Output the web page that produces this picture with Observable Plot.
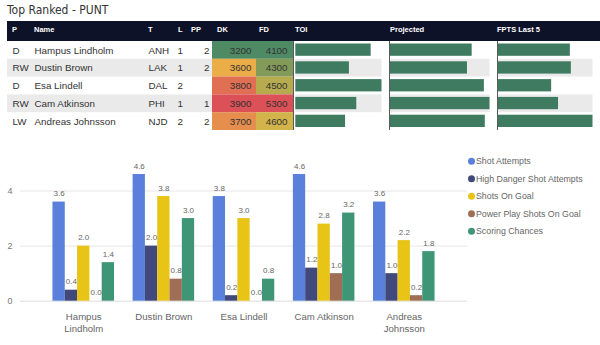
<!DOCTYPE html>
<html><head><meta charset="utf-8">
<script src="https://cdn.jsdelivr.net/npm/d3@7"></script>
<script src="https://cdn.jsdelivr.net/npm/@observablehq/plot@0.6"></script>
<style>
body{margin:0;background:#fff;}
#root{position:relative;width:600px;height:345px;overflow:hidden;font-family:"Liberation Sans",Arial,sans-serif;background:#fff;}
#title{position:absolute;left:7px;top:3px;font-family:"Liberation Sans Narrow","DejaVu Sans Condensed",sans-serif;font-size:12px;color:#333;white-space:nowrap;}
#header{position:absolute;left:7px;top:21px;width:593px;height:20px;background:#0e1229;}
.hl{position:absolute;top:0;line-height:17px;color:#fff;font-size:7.5px;font-weight:bold;white-space:nowrap;}
.col{position:absolute;top:41px;height:89px;}
.col svg{display:block;}
.sep{border-left:1px solid #5a5a5a;}
.chartlayer{position:absolute;left:0;top:135px;}
#legend{position:absolute;left:465px;top:152px;}
</style></head>
<body><div id="root"><div id="title">Top Ranked - PUNT</div><div id="header"></div></div>
<script>
// ---- table data ----
const players = ["Hampus Lindholm","Dustin Brown","Esa Lindell","Cam Atkinson","Andreas Johnsson"];
const positions = ["D","RW","D","RW","LW"];
const teams = ["ANH","LAK","DAL","PHI","NJD"];
const lines = [1,1,2,1,2];
const ppUnits = [2,2,null,1,2];
const dkSalary = [3200,3600,3800,3900,3700];
const fdSalary = [4100,4300,4500,5300,4600];
const toi = [21.5,15.3,24.6,17.4,14.2];
const projected = [8.7,8.2,10.0,10.6,10.1];
const fptsLast5 = [7.3,7.4,5.4,6.1,9.6];
const tableHeads = ["P","Name","T","L","PP","DK","FD","TOI","Projected","FPTS Last 5"];

// ---- bar chart data ----
const series = ["Shot Attempts","High Danger Shot Attempts","Shots On Goal","Power Play Shots On Goal","Scoring Chances"];
const shotAttempts = [3.6,4.6,3.8,4.6,3.6];
const highDanger = [0.4,2.0,0.2,1.2,1.0];
const shotsOnGoal = [2.0,3.8,3.0,2.8,2.2];
const ppShotsOnGoal = [0.0,0.8,0.0,1.0,0.2];
const scoringChances = [1.4,3.0,0.8,3.2,1.8];
const playerTickLabels = ["Hampus\nLindholm","Dustin Brown","Esa Lindell","Cam Atkinson","Andreas\nJohnsson"];
const yTicks = [0,2,4];

// ---- styles ----
const seriesColors = ["#5a80dc","#41487c","#e8c417","#a06e55","#3e9676"];
const heatColors = ["#4e8a63","#ecbc45","#dc5058"];
const dataBarColor = "#3f7b60";
const stripeColor = "#eaeaea";
const fontFamily = "Liberation Sans, Arial, sans-serif";

const root = document.getElementById("root");
const header = document.getElementById("header");

const layout = [
  {left:7, width:24, headPad:5, values:positions, align:"left", pad:5},
  {left:31, width:115, headPad:3, values:players, align:"left", pad:3},
  {left:146, width:28, headPad:2, values:teams, align:"left", pad:2},
  {left:174, width:15, headPad:4, values:lines, align:"left", pad:3},
  {left:189, width:23, headPad:2, values:ppUnits, align:"right", pad:3},
  {left:212, width:44, headPad:5, values:dkSalary, align:"right", pad:5, heat:true},
  {left:256, width:37, headPad:3, values:fdSalary, align:"right", pad:6, heat:true},
  {left:293, width:96, headPad:2, values:toi, bar:true, ml:1.3},
  {left:389, width:108, headPad:1, values:projected, bar:true, ml:0},
  {left:497, width:103, headPad:0, values:fptsLast5, bar:true, ml:0}
];

layout.forEach((c, k) => {
  const hl = document.createElement("div");
  hl.className = "hl";
  hl.style.left = (c.left - 7 + c.headPad) + "px";
  hl.textContent = tableHeads[k];
  header.appendChild(hl);

  const rows = players.map((name, i) => ({name, value: c.values[i]}));
  const div = document.createElement("div");
  div.className = "col" + (c.bar ? " sep" : "");
  div.style.left = c.left + "px";
  const w = c.bar ? c.width - 1 : c.width;
  const marks = [Plot.cell(rows.filter((d, i) => i % 2 === 1), {y: "name", fill: stripeColor})];
  const opts = {
    width: w, height: 89, marginTop: 0, marginBottom: 0, marginLeft: 0, marginRight: 0,
    y: {type: "band", domain: players, axis: null, padding: 0, round: false},
    style: {fontFamily, background: "transparent", overflow: "visible"}
  };
  if (c.heat) {
    const ext = d3.extent(c.values);
    opts.color = {type: "linear", domain: [ext[0], (ext[0] + ext[1]) / 2, ext[1]], range: heatColors, interpolate: "rgb"};
    marks.push(Plot.cell(rows, {y: "name", fill: "value"}));
  }
  if (c.bar) {
    opts.marginLeft = c.ml;
    opts.marginRight = 7.5;
    opts.x = {domain: [0, d3.max(c.values)], axis: null};
    marks.push(Plot.barX(rows, {y: "name", x: "value", fill: dataBarColor, insetTop: 2.5, insetBottom: 3}));
  } else {
    const right = c.align === "right";
    marks.push(Plot.text(rows.filter(d => d.value != null), {
      y: "name", text: d => String(d.value),
      frameAnchor: right ? "right" : "left", textAnchor: right ? "end" : "start",
      dx: right ? -c.pad : c.pad, fontSize: 9.8, fill: "#333"
    }));
  }
  opts.marks = marks;
  div.appendChild(Plot.plot(opts));
  root.appendChild(div);
});

// ---- grouped bar chart ----
const valueSeries = [shotAttempts, highDanger, shotsOnGoal, ppShotsOnGoal, scoringChances];
const chartData = players.flatMap((p, i) => series.map((s, j) => ({player: p, series: s, value: valueSeries[j][i]})));

const frame = {width: 600, height: 210, marginLeft: 20, marginRight: 133, marginTop: 28, marginBottom: 44.3};
const groupPadding = {paddingInner: 0.232, paddingOuter: 0.405, round: false};

// background layer: grid, baseline, axes
const back = Plot.plot({
  ...frame,
  style: {fontFamily, background: "transparent", overflow: "visible"},
  x: {type: "band", domain: players, ...groupPadding, label: null},
  y: {domain: [0, 5], label: null},
  marks: [
    Plot.gridY(yTicks.filter(t => t > 0), {stroke: "#e6e6e6", strokeOpacity: 1}),
    Plot.ruleY([0], {stroke: "#dcdcdc"}),
    Plot.axisY(yTicks, {tickSize: 0, tickPadding: 8, fontSize: 9, fill: "#777", label: null}),
    Plot.axisX({tickSize: 0, tickPadding: 10, tickFormat: d => playerTickLabels[players.indexOf(d)], fontSize: 9.6, fill: "#666", label: null, lineHeight: 1.25})
  ]
});
back.classList.add("chartlayer");
root.appendChild(back);

// foreground layer: grouped bars and value labels
const front = Plot.plot({
  ...frame,
  style: {fontFamily, background: "transparent", overflow: "visible"},
  fx: {domain: players, ...groupPadding, axis: null},
  x: {domain: series, axis: null, padding: 0, round: false},
  y: {domain: [0, 5], axis: null},
  color: {domain: series, range: seriesColors},
  marks: [
    Plot.barY(chartData, {fx: "player", x: "series", y: "value", fill: "series"}),
    Plot.text(chartData, {fx: "player", x: "series", y: "value", text: d => d.value.toFixed(1), lineAnchor: "bottom", dy: -6, fontSize: 8, fill: "#666"})
  ]
});
front.classList.add("chartlayer");
root.appendChild(front);

const legend = Plot.plot({
  width: 135, height: 87.5, marginTop: 0, marginBottom: 0, marginLeft: 0, marginRight: 0,
  style: {fontFamily, background: "transparent", overflow: "visible"},
  y: {type: "band", domain: series, axis: null, padding: 0, round: false},
  color: {domain: series, range: seriesColors},
  marks: [
    Plot.dot(series, {y: d => d, fill: d => d, r: 3.5, frameAnchor: "left", dx: 6}),
    Plot.text(series, {y: d => d, text: d => d, frameAnchor: "left", textAnchor: "start", dx: 10.5, fontSize: 8.8, fill: "#666"})
  ]
});
legend.id = "legend";
root.appendChild(legend);
</script>
</body></html>
